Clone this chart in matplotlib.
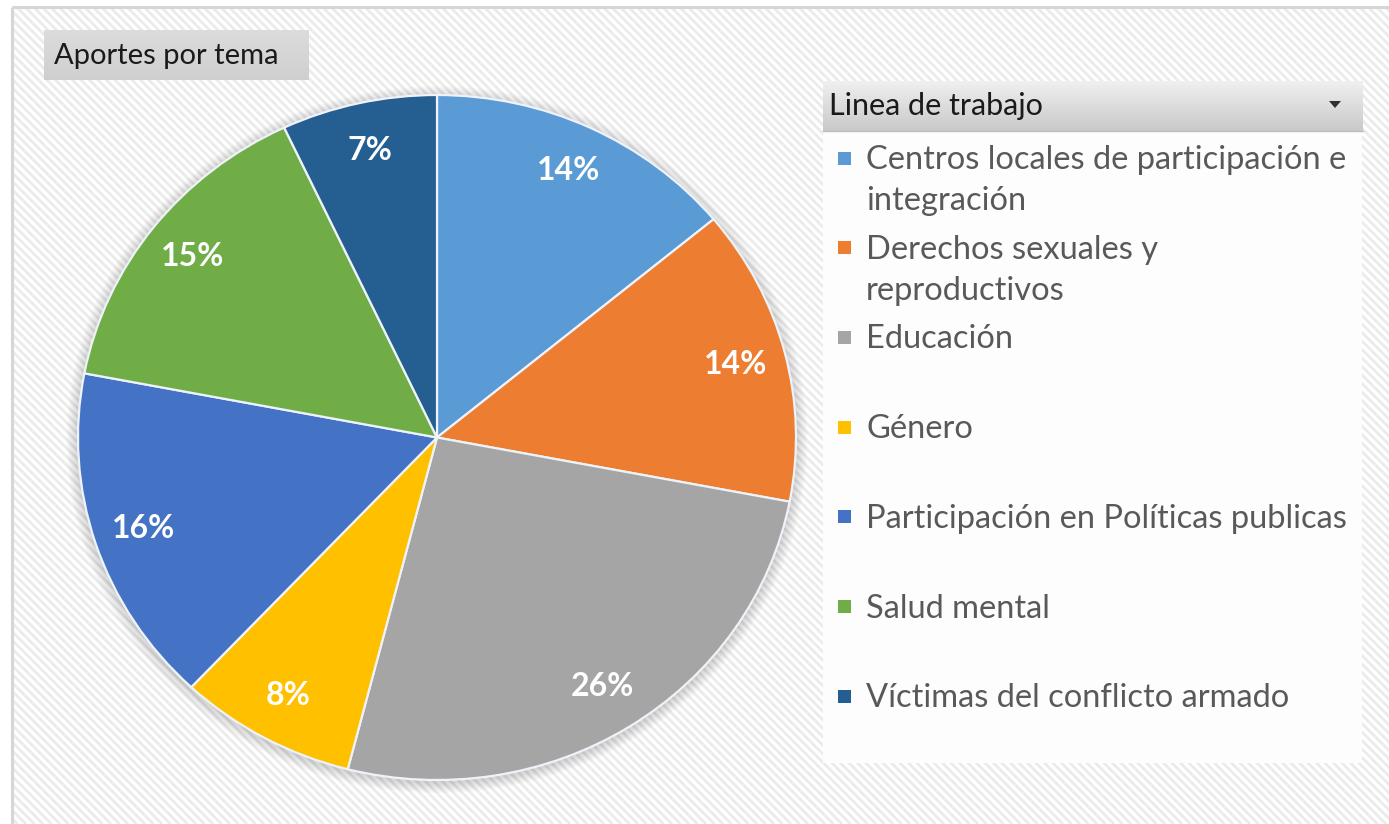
import numpy as np
import matplotlib
matplotlib.use("Agg")
import matplotlib.pyplot as plt
from matplotlib.patches import Rectangle, Circle, Polygon
from matplotlib.collections import LineCollection

# ---------------- data ----------------
title = "Aportes por tema"
legend_title = "Linea de trabajo"
categories = [
    "Centros locales de participación e\nintegración",
    "Derechos sexuales y\nreproductivos",
    "Educación",
    "Género",
    "Participación en Políticas publicas",
    "Salud mental",
    "Víctimas del conflicto armado",
]
values = [14, 14, 26, 8, 16, 15, 7]
colors = ["#5B9BD5", "#ED7D31", "#A5A5A5", "#FFC000", "#4472C4", "#70AD47", "#255E91"]

FONT = ["Lato", "DejaVu Sans"]
plt.rcParams["font.family"] = FONT

W, H = 1389, 824
fig = plt.figure(figsize=(W / 100, H / 100), dpi=100)
fig.patch.set_facecolor("white")

# ---------------- background (pixel coords, y down) ----------------
bg = fig.add_axes([0, 0, 1, 1])
bg.set_xlim(0, W)
bg.set_ylim(H, 0)
bg.axis("off")

frame = Rectangle((13, 8), W - 13, H - 8, facecolor="white", edgecolor="none")
bg.add_patch(frame)
segs = []
for x0 in np.arange(-900, W + 20, 8.5):
    segs.append([(x0, 0), (x0 + H, H)])
lc = LineCollection(segs, colors="#ebebeb", linewidths=2.0)
bg.add_collection(lc)
lc.set_clip_path(frame)
# frame border
bg.plot([12, 12], [7, H], color="#d6d6d6", lw=2.2, solid_capstyle="butt")
bg.plot([12, W], [7, 7], color="#d6d6d6", lw=2.2, solid_capstyle="butt")


def grad_box(x0, y0, x1, y1, ctop, cbot):
    g = np.linspace(0, 1, 64)[:, None]
    ctop = np.array(matplotlib.colors.to_rgb(ctop))
    cbot = np.array(matplotlib.colors.to_rgb(cbot))
    img = (1 - g)[..., None] * ctop + g[..., None] * cbot
    img = np.repeat(img, 2, axis=1)
    bg.imshow(img, extent=(x0, x1, y1, y0), aspect="auto", zorder=3, interpolation="bilinear")


# title button
grad_box(44, 30, 309, 80, "#dcdcdc", "#cfcfcf")
bg.text(54, 56, title, fontsize=21, color="#1a1a1a", va="center", ha="left", zorder=4)

# legend panel
bg.add_patch(Rectangle((823, 131), 539, 632, facecolor="#fdfdfd", edgecolor="none", zorder=2))
grad_box(823, 81, 1363, 131, "#f0f0f0", "#c9c9c9")
bg.plot([823, 1363], [131, 131], color="#bdbdbd", lw=1, zorder=4)
bg.text(829, 106, legend_title, fontsize=22, color="#1a1a1a", va="center", ha="left", zorder=4)
bg.add_patch(Polygon([(1329, 101), (1341, 101), (1335, 108)], closed=True,
                     facecolor="#303030", edgecolor="none", zorder=4))

# legend entries
y_first, step = 158, 89.7
for i, (lab, col) in enumerate(zip(categories, colors)):
    yc = y_first + i * step
    bg.add_patch(Rectangle((838, yc - 6.5), 13, 13, facecolor=col, edgecolor="none", zorder=4))
    for j, line in enumerate(lab.split("\n")):
        bg.text(866, yc + 2 + j * 41, line, fontsize=23.5, color="#595959",
                va="center", ha="left", zorder=4)

# ---------------- pie ----------------
L, R, T, B = 78, 796, 95, 780
ax = fig.add_axes([L / W, (H - B) / H, (R - L) / W, (B - T) / H])
ax.patch.set_alpha(0)

# soft shadow
for k in range(8):
    r = 1.0 + 0.004 * (k + 1)
    ax.add_patch(Circle((0, -0.006), r, facecolor="#000000", alpha=0.018,
                        edgecolor="none", clip_on=False, zorder=0))

wedges, texts, autotexts = ax.pie(
    values, colors=colors, startangle=90, counterclock=False,
    autopct=lambda p: f"{p:.0f}%", pctdistance=0.86,
    wedgeprops=dict(edgecolor="#eef3fa", linewidth=1.6),
    textprops=dict(color="white", fontsize=23, fontweight="bold"),
)
ax.set_aspect("auto")
ax.set_xlim(-1, 1)
ax.set_ylim(-1, 1)
ax.axis("off")

fig.savefig("out.png", dpi=100)
